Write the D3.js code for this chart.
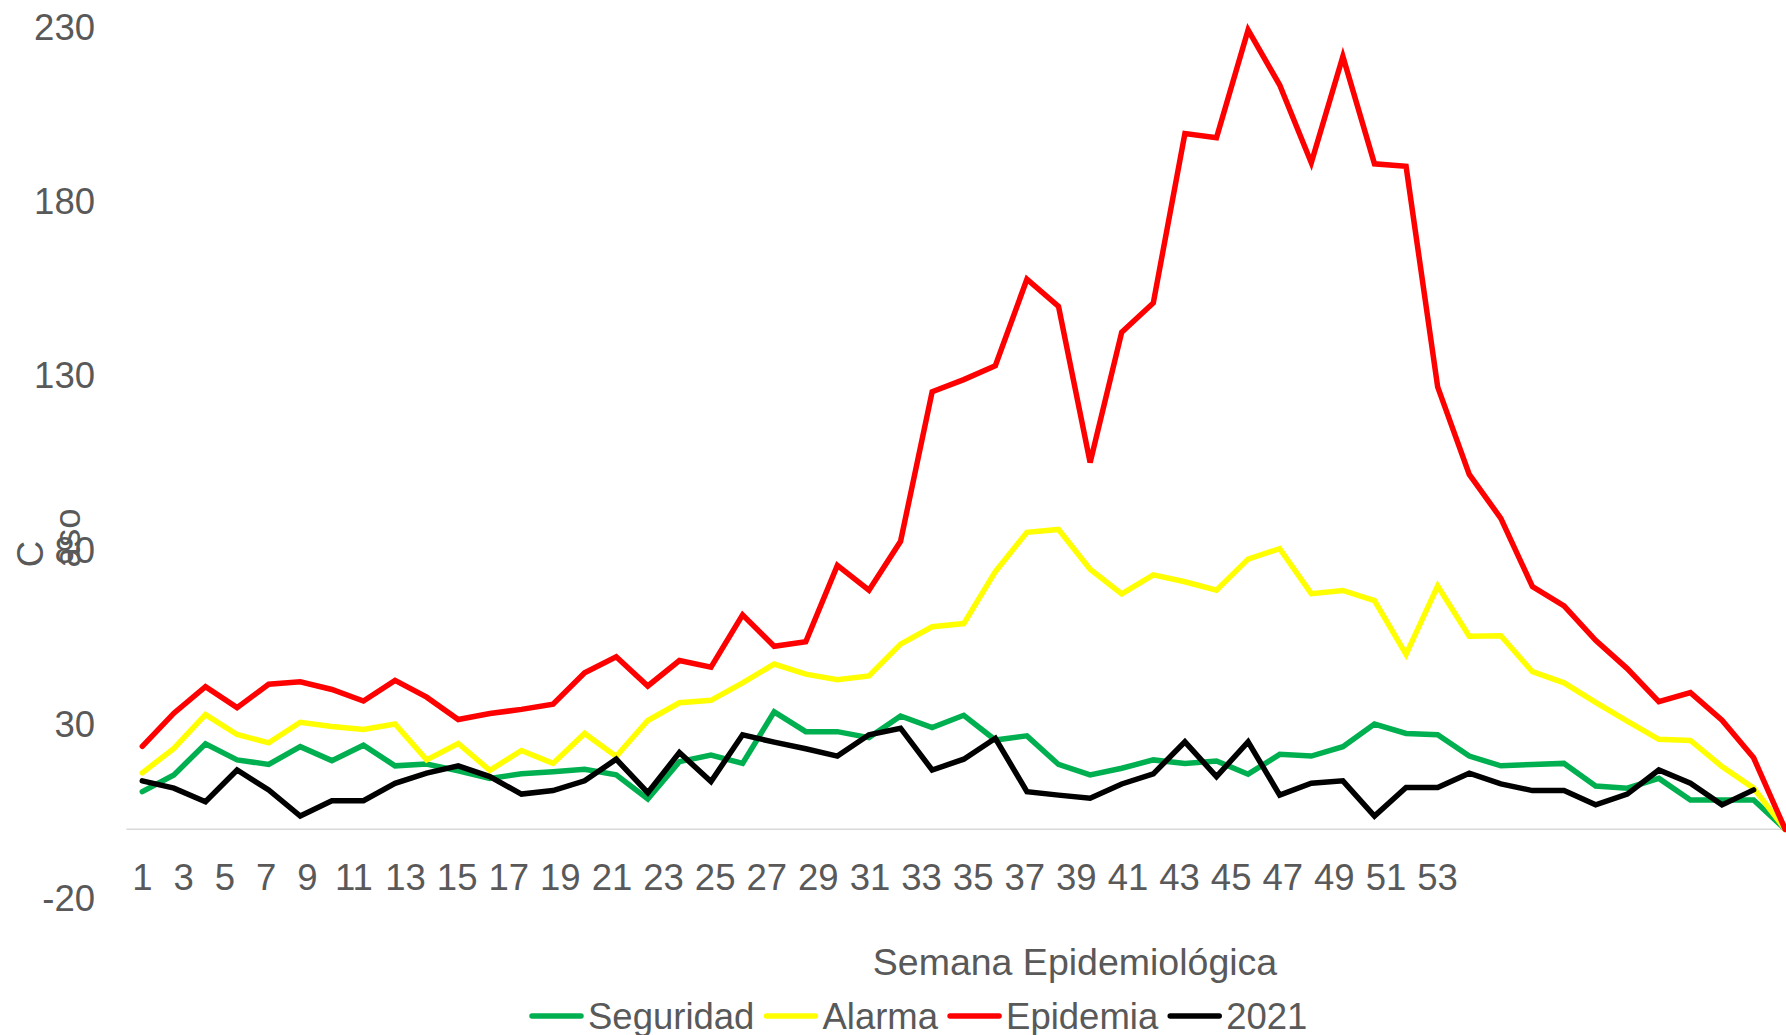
<!DOCTYPE html>
<html>
<head>
<meta charset="utf-8">
<script src="https://cdn.jsdelivr.net/npm/d3@7"></script>
<style>
  body { margin: 0; background: #fff; }
  svg { display: block; }
  text { font-family: "Liberation Sans", Arial, sans-serif; fill: #595959; }
</style>
</head>
<body>
<svg id="chart" width="1786" height="1035"></svg>
<script>

// Epidemiological weeks
const weeks = d3.range(1, 54);

// Channel series (cases per week)
const seguridad = [10.8, 15.6, 24.5, 19.9, 18.6, 23.7, 19.7, 24.1, 18.2, 18.7,
    16.8, 14.6, 15.9, 16.5, 17.2, 15.6, 8.7, 19.4, 21.3, 18.9,
    33.7, 28, 28, 26.3, 32.5, 29.2, 32.7, 25.6, 26.8, 18.6,
    15.6, 17.5, 19.9, 18.9, 19.6, 15.8, 21.5, 21, 23.7, 30.2,
    27.5, 27.1, 21, 18.2, 18.6, 18.9, 12.4, 11.8, 14.6, 8.4,
    8.4, 8.4, 0];
const alarma = [16.2, 23.2, 32.9, 27.2, 24.8, 30.7, 29.5, 28.6, 30.2, 19.9,
    24.6, 16.9, 22.6, 18.9, 27.5, 20.9, 31.2, 36.3, 37, 42,
    47.4, 44.5, 42.9, 44, 53.1, 58.1, 59, 73.9, 85.2, 86,
    74.6, 67.5, 73, 71, 68.6, 77.5, 80.5, 67.6, 68.5, 65.6,
    50.2, 69.8, 55.4, 55.5, 45.2, 42, 36.4, 31, 25.8, 25.5,
    18, 11.8, 0];
const epidemia = [23.8, 33.3, 40.9, 34.9, 41.6, 42.3, 40.1, 36.8, 42.7, 37.9,
    31.5, 33.2, 34.4, 35.9, 44.9, 49.5, 41.1, 48.4, 46.5, 61.5,
    52.5, 53.8, 75.7, 68.6, 82.6, 125.5, 129, 133, 157.8, 150,
    105.2, 142.6, 151, 199.6, 198.4, 229.3, 213.5, 191.2, 221.7, 190.9,
    190.2, 126.9, 101.8, 89.2, 69.6, 64.1, 54.2, 46.1, 36.6, 39.2,
    31.3, 20.5, 0];
const casos2021 = [13.9, 11.8, 7.9, 17, 11.3, 3.8, 8.2, 8.2, 13.2, 16.1,
    18.2, 15.1, 10.1, 11.1, 13.9, 20.1, 10.5, 22, 13.7, 27.1,
    25, 23.1, 21, 27.1, 29, 17, 20.1, 26.1, 10.8, 9.8,
    8.9, 13, 15.9, 25.1, 15.1, 25.1, 9.8, 13.2, 13.9, 3.8,
    12, 12, 16.1, 13, 11.1, 11.1, 7, 10.1, 17, 13.2,
    7, 11.3];

// Axis ticks and labels
const yTicks = [-20, 30, 80, 130, 180, 230];
const xTickLabels = weeks.filter(w => w % 2 === 1).map(String);
const seriesNames = ["Seguridad", "Alarma", "Epidemia", "2021"];
const seriesColors = ["#00b050", "#ffff00", "#ff0000", "#000000"];
const xTitle = "Semana Epidemiológica";

function drawChart() {

    const svg = d3.select("#chart");

    // Plot area runs a little past the right edge of the picture
    const x = d3.scalePoint()
        .domain(weeks)
        .range([126.5, 1801])
        .padding(0.5);
    const y = d3.scaleLinear()
        .domain([-20, 230])
        .range([899, 27.5]);

    // Zero line
    svg.append("line")
        .attr("x1", 126.5).attr("x2", 1786)
        .attr("y1", y(0)).attr("y2", y(0))
        .attr("stroke", "#d9d9d9")
        .attr("stroke-width", 1.5);

    // Y axis labels (plain hyphen for negatives)
    const yAxis = svg.append("g")
        .attr("transform", "translate(95,0)")
        .call(d3.axisLeft(y).tickValues(yTicks).tickSize(0).tickPadding(0)
            .tickFormat(d => String(d)));
    yAxis.select(".domain").remove();
    yAxis.selectAll("text")
        .attr("font-size", 36.5)
        .attr("font-family", null)
        .attr("fill", null);

    // X labels: packed left to right, not under their weeks
    const labelGap = 31, digitStep = 10.3;
    let pos = x(1);
    const labelX = xTickLabels.map((t, i) => {
        if (i > 0) pos += labelGap + digitStep * (xTickLabels[i - 1].length + t.length) / 2;
        return pos;
    });
    svg.append("g")
        .selectAll("text")
        .data(xTickLabels)
        .enter()
        .append("text")
        .attr("x", (d, i) => labelX[i])
        .attr("y", 890)
        .attr("text-anchor", "middle")
        .attr("font-size", 36.5)
        .text(d => d);

    // Series lines
    const series = [seguridad, alarma, epidemia, casos2021];
    const line = d3.line()
        .x((d, i) => x(weeks[i]))
        .y(d => y(d));
    svg.append("g")
        .selectAll("path")
        .data(series)
        .enter()
        .append("path")
        .attr("d", line)
        .attr("fill", "none")
        .attr("stroke", (d, i) => seriesColors[i])
        .attr("stroke-width", 5.5)
        .attr("stroke-linecap", "round")
        .attr("stroke-linejoin", "miter");

    // Y title, broken apart as in the source
    svg.append("text")
        .attr("transform", "translate(43,554) rotate(-90)")
        .attr("text-anchor", "middle")
        .attr("font-size", 36.5)
        .text("C");
    svg.append("text")
        .attr("transform", "translate(80,538) rotate(-90)")
        .attr("text-anchor", "middle")
        .attr("font-size", 36.5)
        .text("aso");

    // X title
    svg.append("text")
        .attr("x", 1075)
        .attr("y", 975)
        .attr("text-anchor", "middle")
        .attr("font-size", 37.5)
        .text(xTitle);

    // Legend
    const legend = svg.append("g").attr("transform", "translate(530,1016)");
    let lx = 0;
    seriesNames.forEach((name, i) => {
        legend.append("line")
            .attr("x1", lx + 2).attr("x2", lx + 51)
            .attr("y1", 0).attr("y2", 0)
            .attr("stroke", seriesColors[i])
            .attr("stroke-width", 5.5)
            .attr("stroke-linecap", "round");
        const t = legend.append("text")
            .attr("x", lx + 58)
            .attr("y", 12.5)
            .attr("font-size", 36.5)
            .text(name);
        lx += 58 + t.node().getComputedTextLength() + 10;
    });
}

drawChart();
</script>
</body>
</html>
